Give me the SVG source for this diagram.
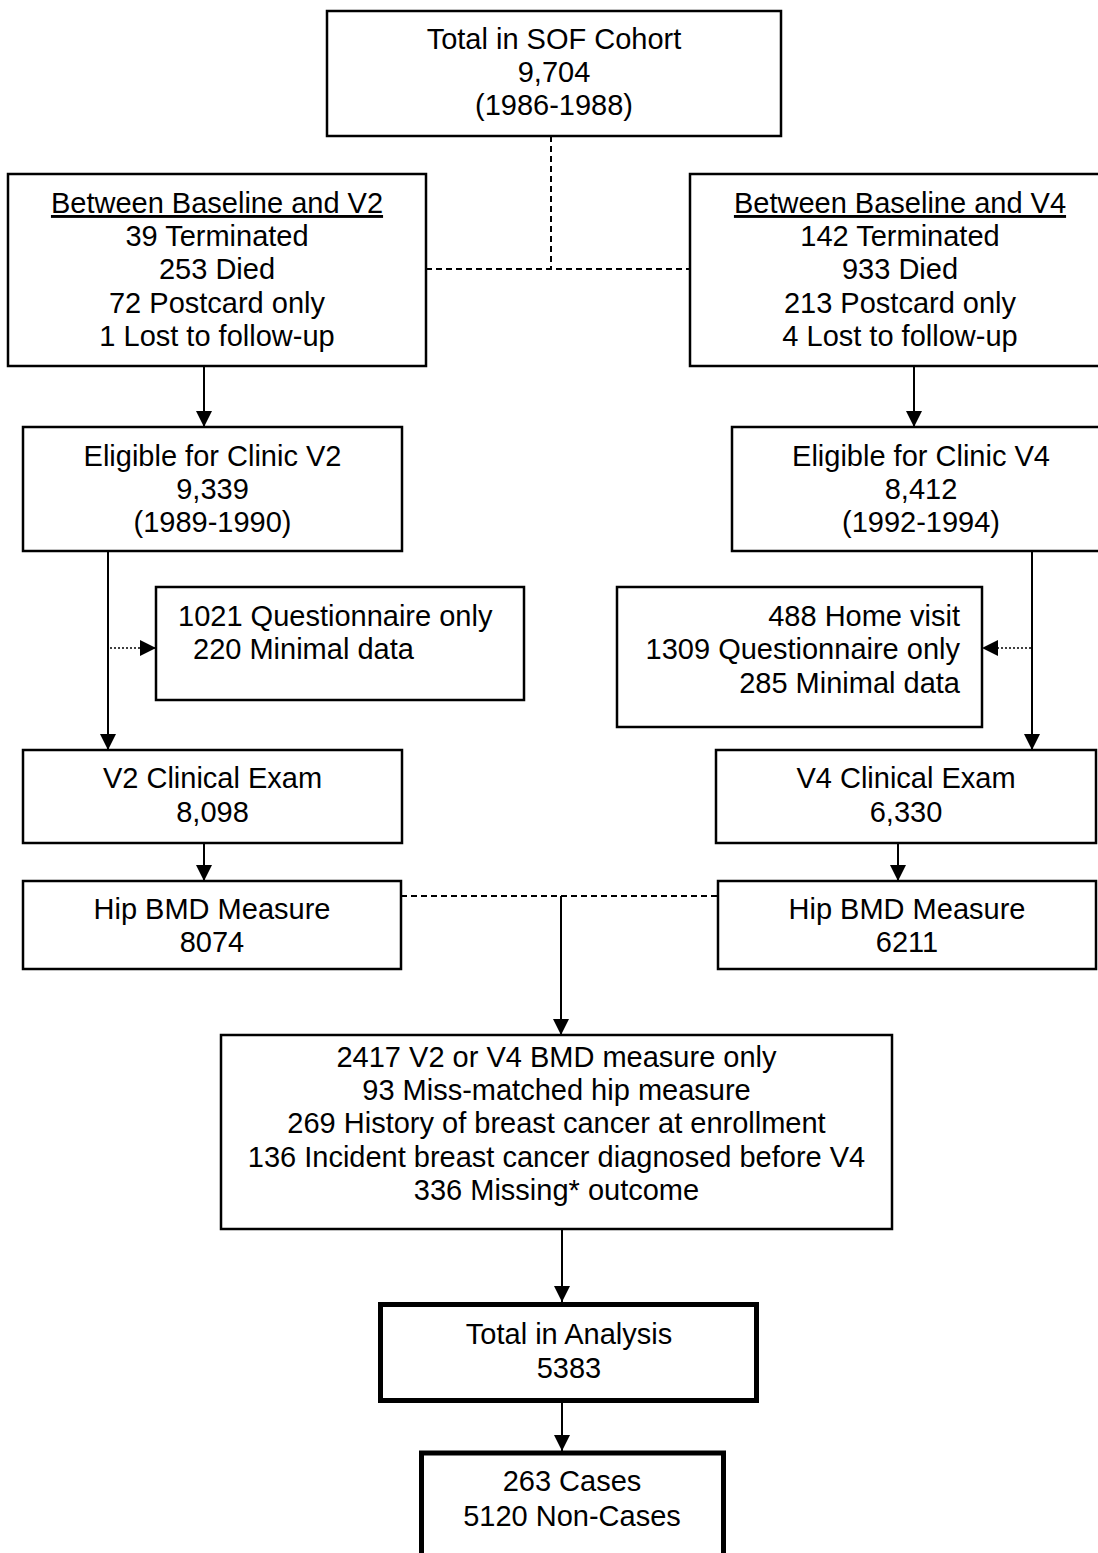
<svg xmlns="http://www.w3.org/2000/svg" width="1098" height="1553" viewBox="0 0 1098 1553">
<style>
  .box { fill: #ffffff; stroke: #000000; stroke-width: 2.5; }
  .thick { fill: #ffffff; stroke: #000000; stroke-width: 5; }
  text { font-family: "Liberation Sans", Arial, sans-serif; font-size: 29px; fill: #000000; }
  .c { text-anchor: middle; }
  .r { text-anchor: end; }
  .line { stroke: #000000; stroke-width: 2; fill: none; }
  .dash { stroke: #000000; stroke-width: 2; fill: none; stroke-dasharray: 6 4; }
  .dot { stroke: #000000; stroke-width: 1.5; fill: none; stroke-dasharray: 2 2; }
</style>
<defs>
  <marker id="ah" markerUnits="userSpaceOnUse" markerWidth="16" markerHeight="16" refX="15" refY="7.5" orient="auto" viewBox="0 0 15 15">
    <path d="M0,0 L15,7.5 L0,15 z" fill="#000000"/>
  </marker>
</defs>
<rect width="1098" height="1553" fill="#ffffff"/>

<g id="connectors">
  <line class="dash" x1="551" y1="136" x2="551" y2="269"/>
  <line class="dash" x1="426" y1="269" x2="690" y2="269"/>
  <line class="line" x1="204" y1="366" x2="204" y2="427" marker-end="url(#ah)"/>
  <line class="line" x1="914" y1="366" x2="914" y2="427" marker-end="url(#ah)"/>
  <line class="line" x1="108" y1="551" x2="108" y2="750" marker-end="url(#ah)"/>
  <line class="line" x1="1032" y1="551" x2="1032" y2="750" marker-end="url(#ah)"/>
  <line class="dot" x1="110" y1="648" x2="156" y2="648" marker-end="url(#ah)"/>
  <line class="dot" x1="1031" y1="648" x2="982" y2="648" marker-end="url(#ah)"/>
  <line class="line" x1="204" y1="843" x2="204" y2="881" marker-end="url(#ah)"/>
  <line class="line" x1="898" y1="843" x2="898" y2="881" marker-end="url(#ah)"/>
  <line class="dash" x1="401" y1="896" x2="718" y2="896"/>
  <line class="line" x1="561" y1="896" x2="561" y2="1035" marker-end="url(#ah)"/>
  <line class="line" x1="562" y1="1229" x2="562" y2="1302" marker-end="url(#ah)"/>
  <line class="line" x1="562" y1="1403" x2="562" y2="1451" marker-end="url(#ah)"/>
</g>

<g id="node-total-sof">
  <rect class="box" x="327" y="11" width="454" height="125"/>
  <text class="c" x="554" y="49">Total in SOF Cohort</text>
  <text class="c" x="554" y="82">9,704</text>
  <text class="c" x="554" y="115">(1986-1988)</text>
</g>

<g id="node-between-v2">
  <rect class="box" x="8" y="174" width="418" height="192"/>
  <text class="c" x="217" y="213" text-decoration="underline">Between Baseline and V2</text>
  <text class="c" x="217" y="246">39 Terminated</text>
  <text class="c" x="217" y="279">253 Died</text>
  <text class="c" x="217" y="313">72 Postcard only</text>
  <text class="c" x="217" y="346">1 Lost to follow-up</text>
</g>

<g id="node-between-v4">
  <rect class="box" x="690" y="174" width="420" height="192"/>
  <text class="c" x="900" y="213" text-decoration="underline">Between Baseline and V4</text>
  <text class="c" x="900" y="246">142 Terminated</text>
  <text class="c" x="900" y="279">933 Died</text>
  <text class="c" x="900" y="313">213 Postcard only</text>
  <text class="c" x="900" y="346">4 Lost to follow-up</text>
</g>

<g id="node-eligible-v2">
  <rect class="box" x="23" y="427" width="379" height="124"/>
  <text class="c" x="212.5" y="466">Eligible for Clinic V2</text>
  <text class="c" x="212.5" y="499">9,339</text>
  <text class="c" x="212.5" y="532">(1989-1990)</text>
</g>

<g id="node-eligible-v4">
  <rect class="box" x="732" y="427" width="378" height="124"/>
  <text class="c" x="921" y="466">Eligible for Clinic V4</text>
  <text class="c" x="921" y="499">8,412</text>
  <text class="c" x="921" y="532">(1992-1994)</text>
</g>

<g id="node-excluded-v2">
  <rect class="box" x="156" y="587" width="368" height="113"/>
  <text x="178" y="626">1021 Questionnaire only</text>
  <text x="193" y="659">220 Minimal data</text>
</g>

<g id="node-excluded-v4">
  <rect class="box" x="617" y="587" width="365" height="140"/>
  <text class="r" x="960" y="626">488 Home visit</text>
  <text class="r" x="960" y="659">1309 Questionnaire only</text>
  <text class="r" x="960" y="693">285 Minimal data</text>
</g>

<g id="node-v2-exam">
  <rect class="box" x="23" y="750" width="379" height="93"/>
  <text class="c" x="212.5" y="788">V2 Clinical Exam</text>
  <text class="c" x="212.5" y="822">8,098</text>
</g>

<g id="node-v4-exam">
  <rect class="box" x="716" y="750" width="380" height="93"/>
  <text class="c" x="906" y="788">V4 Clinical Exam</text>
  <text class="c" x="906" y="822">6,330</text>
</g>

<g id="node-hip-v2">
  <rect class="box" x="23" y="881" width="378" height="88"/>
  <text class="c" x="212" y="919">Hip BMD Measure</text>
  <text class="c" x="212" y="952">8074</text>
</g>

<g id="node-hip-v4">
  <rect class="box" x="718" y="881" width="378" height="88"/>
  <text class="c" x="907" y="919">Hip BMD Measure</text>
  <text class="c" x="907" y="952">6211</text>
</g>

<g id="node-exclusions">
  <rect class="box" x="221" y="1035" width="671" height="194"/>
  <text class="c" x="556.5" y="1067">2417 V2 or V4 BMD measure only</text>
  <text class="c" x="556.5" y="1100">93 Miss-matched hip measure</text>
  <text class="c" x="556.5" y="1133">269 History of breast cancer at enrollment</text>
  <text class="c" x="556.5" y="1167">136 Incident breast cancer diagnosed before V4</text>
  <text class="c" x="556.5" y="1200">336 Missing* outcome</text>
</g>

<g id="node-total-analysis">
  <rect class="thick" x="380.5" y="1304.5" width="376" height="96"/>
  <text class="c" x="569" y="1344">Total in Analysis</text>
  <text class="c" x="569" y="1378">5383</text>
</g>

<g id="node-cases">
  <rect class="thick" x="421.5" y="1453" width="302" height="130"/>
  <text class="c" x="572" y="1491">263 Cases</text>
  <text class="c" x="572" y="1526">5120 Non-Cases</text>
</g>
</svg>
